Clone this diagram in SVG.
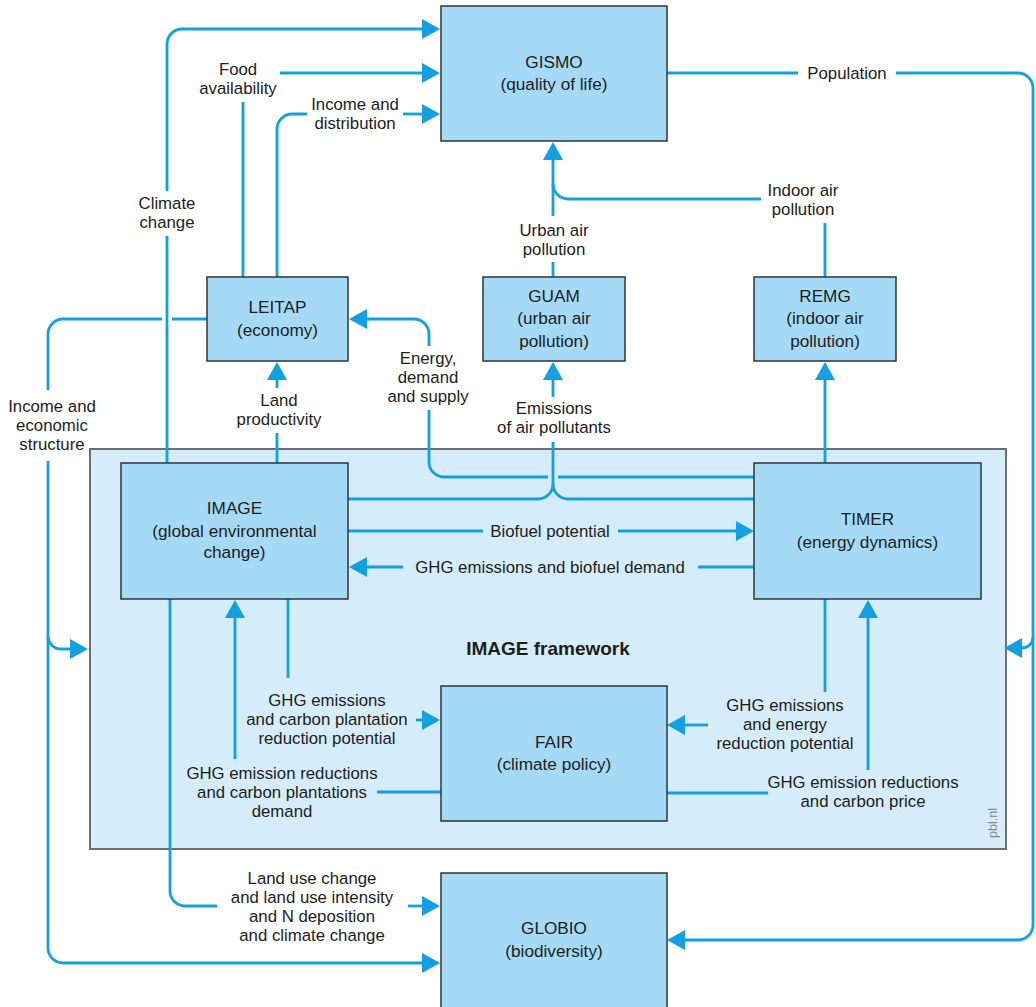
<svg xmlns="http://www.w3.org/2000/svg" width="1036" height="1007" viewBox="0 0 1036 1007">
  <style>
    .box { fill: #a4daf6; stroke: #2f3436; stroke-width: 1.5; }
    .frame { fill: #d5ecfa; stroke: #6d6f71; stroke-width: 2; }
    .lbl { font-family: "Liberation Sans", Arial, sans-serif; font-size: 16.8px; fill: #1d1d1b; text-anchor: middle; }
    .node { font-family: "Liberation Sans", Arial, sans-serif; font-size: 17.2px; fill: #1d1d1b; text-anchor: middle; }
    .title { font-family: "Liberation Sans", Arial, sans-serif; font-size: 19px; font-weight: bold; fill: #1d1d1b; text-anchor: middle; }
    .credit { font-family: "Liberation Sans", Arial, sans-serif; font-size: 12.5px; fill: #8a8c8e; text-anchor: middle; }
    .link { fill: none; stroke: #12a0e1; stroke-width: 2.8; }
  </style>
  <defs>
    <marker id="head" markerUnits="userSpaceOnUse" markerWidth="19" markerHeight="22" viewBox="0 -11 19 22" refX="1" refY="0" orient="auto">
      <path d="M0,-10 L18,0 L0,10 Z" fill="#12a0e1"/>
    </marker>
  </defs>

  <!-- framework background -->
  <g id="framework">
    <rect class="frame" x="90" y="449" width="916" height="400"/>
    <text class="title" x="548" y="655">IMAGE framework</text>
    <text class="credit" transform="translate(997,823) rotate(-90)">pbl.nl</text>
  </g>

  <!-- connectors -->
  <g id="connectors">
    <!-- Climate change: IMAGE -> GISMO -->
    <path class="link" d="M167,463 V236"/>
    <path class="link" d="M167,191 V44 A15,15 0 0 1 182,29 H423" marker-end="url(#head)"/>
    <!-- Food availability: LEITAP -> GISMO -->
    <path class="link" d="M243,277 V102"/>
    <path class="link" d="M280,73 H423" marker-end="url(#head)"/>
    <!-- Income and distribution: LEITAP -> GISMO -->
    <path class="link" d="M277,277 V129 A15,15 0 0 1 292,114 H307"/>
    <path class="link" d="M403,114 H423" marker-end="url(#head)"/>
    <!-- Population: GISMO -> framework, GLOBIO -->
    <path class="link" d="M667,73 H798"/>
    <path class="link" d="M896,73 H1018 A15,15 0 0 1 1033,88 V925 A15,15 0 0 1 1018,940 H684" marker-end="url(#head)"/>
    <path class="link" d="M1033,637 A11,11 0 0 1 1022,648 H1021" marker-end="url(#head)"/>
    <!-- Indoor air pollution: REMG -> GISMO -->
    <path class="link" d="M825,277 V223"/>
    <path class="link" d="M761,199 H568 A15,15 0 0 1 553,184"/>
    <!-- Urban air pollution: GUAM -> GISMO -->
    <path class="link" d="M553,277 V262"/>
    <path class="link" d="M553,216 V159" marker-end="url(#head)"/>
    <!-- Emissions of air pollutants: IMAGE, TIMER -> GUAM -->
    <path class="link" d="M348,499 H538 A15,15 0 0 0 553,484 V442"/>
    <path class="link" d="M754,499 H568 A15,15 0 0 1 553,484"/>
    <path class="link" d="M553,397 V379" marker-end="url(#head)"/>
    <!-- Energy, demand and supply: TIMER -> LEITAP -->
    <path class="link" d="M754,477 H558"/>
    <path class="link" d="M548,477 H444 A15,15 0 0 1 429,462 V410"/>
    <path class="link" d="M429,346 V334 A15,15 0 0 0 414,319 H366" marker-end="url(#head)"/>
    <!-- Income and economic structure: LEITAP -> framework, GLOBIO -->
    <path class="link" d="M207,319 H172"/>
    <path class="link" d="M162,319 H63 A15,15 0 0 0 48,334 V390"/>
    <path class="link" d="M48,461 V948 A15,15 0 0 0 63,963 H423" marker-end="url(#head)"/>
    <path class="link" d="M48,636 A13,13 0 0 0 61,649 H71" marker-end="url(#head)"/>
    <!-- Land productivity: IMAGE -> LEITAP -->
    <path class="link" d="M277,463 V433"/>
    <path class="link" d="M277,388 V379" marker-end="url(#head)"/>
    <!-- Biofuel potential: IMAGE -> TIMER -->
    <path class="link" d="M348,531 H483"/>
    <path class="link" d="M618,531 H737" marker-end="url(#head)"/>
    <!-- GHG emissions and biofuel demand: TIMER -> IMAGE -->
    <path class="link" d="M754,567 H698"/>
    <path class="link" d="M403,567 H366" marker-end="url(#head)"/>
    <!-- TIMER -> REMG -->
    <path class="link" d="M825,463 V379" marker-end="url(#head)"/>
    <!-- Land use change ...: IMAGE -> GLOBIO -->
    <path class="link" d="M170,599 V891 A15,15 0 0 0 185,906 H217"/>
    <path class="link" d="M408,906 H423" marker-end="url(#head)"/>
    <!-- IMAGE -> FAIR -->
    <path class="link" d="M288,599 V678"/>
    <path class="link" d="M416,720 H423" marker-end="url(#head)"/>
    <!-- FAIR -> IMAGE -->
    <path class="link" d="M441,792 H377"/>
    <path class="link" d="M235,759 V617" marker-end="url(#head)"/>
    <!-- TIMER -> FAIR -->
    <path class="link" d="M825,599 V692"/>
    <path class="link" d="M708,725 H684" marker-end="url(#head)"/>
    <!-- FAIR -> TIMER -->
    <path class="link" d="M667,793 H768"/>
    <path class="link" d="M868,770 V617" marker-end="url(#head)"/>
  </g>

  <!-- connector labels -->
  <g id="labels">
    <text class="lbl" x="167" y="209">Climate</text>
    <text class="lbl" x="167" y="228">change</text>
    <text class="lbl" x="238" y="75">Food</text>
    <text class="lbl" x="238" y="94">availability</text>
    <text class="lbl" x="355" y="110">Income and</text>
    <text class="lbl" x="355" y="129">distribution</text>
    <text class="lbl" x="847" y="79">Population</text>
    <text class="lbl" x="803" y="196">Indoor air</text>
    <text class="lbl" x="803" y="215">pollution</text>
    <text class="lbl" x="554" y="236">Urban air</text>
    <text class="lbl" x="554" y="255">pollution</text>
    <text class="lbl" x="554" y="414">Emissions</text>
    <text class="lbl" x="554" y="433">of air pollutants</text>
    <text class="lbl" x="428" y="364">Energy,</text>
    <text class="lbl" x="428" y="383">demand</text>
    <text class="lbl" x="428" y="402">and supply</text>
    <text class="lbl" x="52" y="412">Income and</text>
    <text class="lbl" x="52" y="431">economic</text>
    <text class="lbl" x="52" y="450">structure</text>
    <text class="lbl" x="279" y="406">Land</text>
    <text class="lbl" x="279" y="425">productivity</text>
    <text class="lbl" x="550" y="537">Biofuel potential</text>
    <text class="lbl" x="550" y="573">GHG emissions and biofuel demand</text>
    <text class="lbl" x="312" y="884">Land use change</text>
    <text class="lbl" x="312" y="903">and land use intensity</text>
    <text class="lbl" x="312" y="922">and N deposition</text>
    <text class="lbl" x="312" y="941">and climate change</text>
    <text class="lbl" x="327" y="706">GHG emissions</text>
    <text class="lbl" x="327" y="725">and carbon plantation</text>
    <text class="lbl" x="327" y="744">reduction potential</text>
    <text class="lbl" x="282" y="779">GHG emission reductions</text>
    <text class="lbl" x="282" y="798">and carbon plantations</text>
    <text class="lbl" x="282" y="817">demand</text>
    <text class="lbl" x="785" y="711">GHG emissions</text>
    <text class="lbl" x="785" y="730">and energy</text>
    <text class="lbl" x="785" y="749">reduction potential</text>
    <text class="lbl" x="863" y="788">GHG emission reductions</text>
    <text class="lbl" x="863" y="807">and carbon price</text>
  </g>

  <!-- model nodes -->
  <g id="GISMO">
    <rect class="box" x="441" y="6" width="226" height="135"/>
    <text class="node" x="554" y="68">GISMO</text>
    <text class="node" x="554" y="90">(quality of life)</text>
  </g>
  <g id="LEITAP">
    <rect class="box" x="207" y="277" width="141" height="84"/>
    <text class="node" x="277.5" y="313">LEITAP</text>
    <text class="node" x="277.5" y="336">(economy)</text>
  </g>
  <g id="GUAM">
    <rect class="box" x="483" y="277" width="142" height="84"/>
    <text class="node" x="554" y="302">GUAM</text>
    <text class="node" x="554" y="324">(urban air</text>
    <text class="node" x="554" y="347">pollution)</text>
  </g>
  <g id="REMG">
    <rect class="box" x="754" y="277" width="142" height="84"/>
    <text class="node" x="825" y="302">REMG</text>
    <text class="node" x="825" y="324">(indoor air</text>
    <text class="node" x="825" y="347">pollution)</text>
  </g>
  <g id="IMAGE">
    <rect class="box" x="121" y="463" width="227" height="136"/>
    <text class="node" x="234.5" y="514">IMAGE</text>
    <text class="node" x="234.5" y="537">(global environmental</text>
    <text class="node" x="234.5" y="558">change)</text>
  </g>
  <g id="TIMER">
    <rect class="box" x="754" y="463" width="227" height="136"/>
    <text class="node" x="867.5" y="525">TIMER</text>
    <text class="node" x="867.5" y="548">(energy dynamics)</text>
  </g>
  <g id="FAIR">
    <rect class="box" x="441" y="686" width="226" height="135"/>
    <text class="node" x="554" y="748">FAIR</text>
    <text class="node" x="554" y="770">(climate policy)</text>
  </g>
  <g id="GLOBIO">
    <rect class="box" x="441" y="873" width="226" height="140"/>
    <text class="node" x="554" y="934">GLOBIO</text>
    <text class="node" x="554" y="957">(biodiversity)</text>
  </g>
</svg>
